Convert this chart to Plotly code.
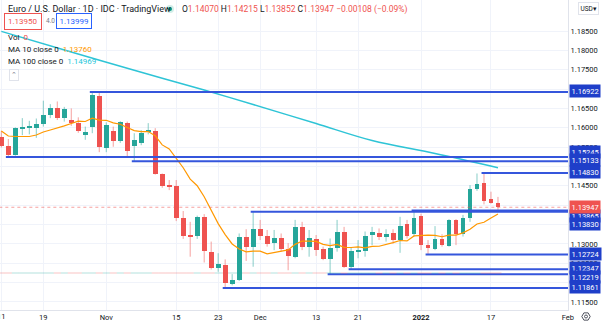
import math
import pandas as pd
import plotly.graph_objects as go

# EUR/USD daily candles, 11 Oct 2021 - 18 Jan 2022
opens = [
    1.1576, 1.1553, 1.1530, 1.1599, 1.1600, 1.1600, 1.1609, 1.1633, 1.1650, 1.1626,
    1.1620, 1.1613, 1.1581, 1.1603, 1.1683, 1.1549, 1.1592, 1.1567, 1.1612, 1.1554,
    1.1560, 1.1588, 1.1592, 1.1481, 1.1452, 1.1450, 1.1368, 1.1321, 1.1321, 1.1370,
    1.1280, 1.1239, 1.1245, 1.1196, 1.1207, 1.1317, 1.1293, 1.1338, 1.1320, 1.1302,
    1.1315, 1.1286, 1.1265, 1.1343, 1.1293, 1.1313, 1.1286, 1.1260, 1.1290, 1.1332,
    1.1240, 1.1280, 1.1282, 1.1325, 1.1329, 1.1319, 1.1329, 1.1310, 1.1351, 1.1325,
    1.1372, 1.1297, 1.1287, 1.1314, 1.1295, 1.1362, 1.1325, 1.1368, 1.1442, 1.1457,
    1.1415, 1.14070,
]
highs = [
    1.1592, 1.1571, 1.1601, 1.1625, 1.1618, 1.1624, 1.1670, 1.1661, 1.1668, 1.1654,
    1.1650, 1.1627, 1.1603, 1.16922, 1.1690, 1.1614, 1.1603, 1.1617, 1.1616, 1.1586,
    1.1594, 1.1612, 1.1599, 1.1482, 1.1465, 1.1465, 1.1385, 1.1357, 1.1373, 1.1377,
    1.1306, 1.1276, 1.1260, 1.1222, 1.1327, 1.1338, 1.13830, 1.1362, 1.1336, 1.1336,
    1.1327, 1.1302, 1.1362, 1.1357, 1.1336, 1.1323, 1.1293, 1.1314, 1.1362, 1.1344,
    1.1292, 1.1310, 1.1332, 1.1344, 1.1340, 1.1338, 1.1338, 1.1370, 1.1362, 1.13865,
    1.1378, 1.1310, 1.1346, 1.1325, 1.1364, 1.1364, 1.1375, 1.1452, 1.1482, 1.14830,
    1.1435, 1.14215,
]
lows = [
    1.1549, 1.15245, 1.1528, 1.1581, 1.1583, 1.1574, 1.1603, 1.1625, 1.1620, 1.1616,
    1.1605, 1.1587, 1.1569, 1.1586, 1.1537, 1.1537, 1.1551, 1.1561, 1.1525, 1.15133,
    1.1555, 1.1583, 1.1479, 1.1445, 1.1439, 1.1359, 1.1313, 1.1267, 1.1313, 1.1252,
    1.1234, 1.1228, 1.11861, 1.1193, 1.1204, 1.1256, 1.1241, 1.1310, 1.1293, 1.1284,
    1.1280, 1.1232, 1.1263, 1.1284, 1.1267, 1.1269, 1.1258, 1.12219, 1.1280, 1.1238,
    1.12347, 1.1263, 1.1267, 1.1297, 1.1310, 1.1306, 1.1301, 1.1277, 1.1314, 1.1319,
    1.1284, 1.12724, 1.1284, 1.1293, 1.1293, 1.1297, 1.1319, 1.1357, 1.1437, 1.1402,
    1.1404, 1.13852,
]
closes = [
    1.1553, 1.1530, 1.1599, 1.1601, 1.1602, 1.1609, 1.1633, 1.1650, 1.1626, 1.1648,
    1.1612, 1.1592, 1.1590, 1.1685, 1.1551, 1.1607, 1.1567, 1.1614, 1.1540, 1.1568,
    1.1587, 1.1594, 1.1480, 1.1450, 1.1446, 1.1368, 1.1321, 1.1320, 1.1370, 1.1282,
    1.1239, 1.1248, 1.1198, 1.1207, 1.1317, 1.1293, 1.1338, 1.1320, 1.1301, 1.1315,
    1.1286, 1.1269, 1.1343, 1.1293, 1.1316, 1.1284, 1.1260, 1.1290, 1.1330, 1.1240,
    1.1282, 1.1284, 1.1321, 1.1330, 1.1319, 1.1326, 1.1310, 1.1346, 1.1320, 1.1368,
    1.1297, 1.1289, 1.1314, 1.1297, 1.1362, 1.1325, 1.1368, 1.1441, 1.1455, 1.1411,
    1.1407, 1.13947,
]
# the IDC feed carries no volume: every session reads 0
volumes = [0] * len(closes)

# MA(10) values for the first nine sessions (their inputs precede the window)
ma10_lead = [1.15917, 1.15788, 1.15775, 1.15775, 1.15775, 1.15813, 1.15891, 1.15943, 1.16007]

# MA(100) sampled at a few sessions
ma100_sessions = [0, 10, 19, 29, 36, 45, 53, 62, 71]
ma100_values = [1.18490, 1.17960, 1.17485, 1.16976, 1.16601, 1.16110, 1.15671, 1.15335, 1.14969]

# Horizontal support / resistance levels and the session each one starts from
levels = [1.16922, 1.15245, 1.15133, 1.14830, 1.13865, 1.13830, 1.12724, 1.12347, 1.12219, 1.11861]
level_starts = ["2021-10-28", "2021-10-12", "2021-11-05", "2022-01-14", "2021-12-31",
                "2021-11-30", "2022-01-04", "2021-12-20", "2021-12-15", "2021-11-24"]

last_price = 1.13947
price_ticks = [1.115, 1.120, 1.125, 1.130, 1.135, 1.140, 1.145, 1.150, 1.155,
               1.160, 1.165, 1.170, 1.175, 1.180, 1.185]
# scale values sitting under a level label are not printed
covered_ticks = [1.120, 1.135, 1.140, 1.150, 1.170]
date_ticks = ["2021-10-11", "2021-10-19", "2021-11-01", "2021-11-15", "2021-11-23",
              "2021-12-01", "2021-12-13", "2021-12-21", "2022-01-03", "2022-01-17", "2022-02-01"]
date_tick_text = ["11", "19", "Nov", "15", "23", "Dec", "13", "21", "<b>2022</b>", "17", "Feb"]

# ---------------------------------------------------------------------------
UP, DOWN = "#26a69a", "#ef5350"
UP_WICK, DOWN_WICK = "rgba(38,166,154,0.55)", "rgba(239,83,80,0.55)"
LEVEL_BLUE = "#3556dc"
LABEL_BLUE = "#1f3fc9"
GRID = "#f0f3fa"
TEXT = "#131722"
FONT = "Roboto"
W, H = 602, 323
ML, MR, MT, MB = 0, 34, 0, 13
PW, PH = W - ML - MR, H - MT - MB

sessions = pd.bdate_range("2021-10-11", "2022-01-18")
calendar = pd.bdate_range("2021-10-11", "2022-02-01")
pos = {d: k for k, d in enumerate(calendar)}
xs = [pos[d] for d in sessions]

ma10 = pd.Series(closes).rolling(10).mean().tolist()
ma10[:len(ma10_lead)] = ma10_lead

fig = go.Figure()

# zero-volume ticks on the overlay volume scale
vol_col = ["rgba(38,166,154,0.35)" if c >= o else "rgba(239,83,80,0.35)"
           for o, c in zip(opens, closes)]
fig.add_trace(go.Scatter(x=xs, y=volumes, yaxis="y2", mode="markers",
                         marker=dict(symbol="line-ew", size=5, line=dict(color=vol_col, width=1)),
                         hoverinfo="skip", showlegend=False))

# wicks
for up, color in ((True, UP_WICK), (False, DOWN_WICK)):
    wx, wy = [], []
    for x, o, h, l, c in zip(xs, opens, highs, lows, closes):
        if (c >= o) == up:
            wx += [x, x, None]
            wy += [l, h, None]
    fig.add_trace(go.Scatter(x=wx, y=wy, mode="lines", line=dict(color=color, width=1),
                             hoverinfo="skip", showlegend=False))

# bodies
body_base = [min(o, c) for o, c in zip(opens, closes)]
body_len = [max(abs(c - o), 0.00025) for o, c in zip(opens, closes)]
body_col = [UP if c >= o else DOWN for o, c in zip(opens, closes)]
fig.add_trace(go.Bar(x=xs, y=body_len, base=body_base, width=0.7,
                     marker=dict(color=body_col, line=dict(width=0)),
                     hoverinfo="skip", showlegend=False))

# moving averages
fig.add_trace(go.Scatter(x=xs, y=ma10, mode="lines", line=dict(color="#ff9800", width=1.2),
                         hoverinfo="skip", showlegend=False))
fig.add_trace(go.Scatter(x=[xs[k] for k in ma100_sessions], y=ma100_values, mode="lines",
                         line=dict(color="#2ec4d6", width=1.5, shape="spline"),
                         hoverinfo="skip", showlegend=False))

x_end = len(calendar) + 2
# last-price line
fig.add_trace(go.Scatter(x=[-2, x_end], y=[last_price, last_price], mode="lines",
                         line=dict(color="rgba(239,83,80,0.55)", width=1, dash="dot"),
                         hoverinfo="skip", showlegend=False))

# level lines
for p, s in zip(levels, level_starts):
    x0 = pos[pd.Timestamp(s)] - 0.35
    fig.add_trace(go.Scatter(x=[x0, x_end], y=[p, p], mode="lines",
                             line=dict(color=LEVEL_BLUE, width=2),
                             hoverinfo="skip", showlegend=False))

y_lo, y_hi = 1.11293, 1.19301
x_lo, x_hi = -0.19, 81.01
vol_zero_frac = 1 - 273.0 / PH   # the volume overlay's zero line sits at this height


def px_x(px):
    return px / PW


def px_y(py):
    return 1 - py / PH


def x_to_px(x):
    return (x - x_lo) / (x_hi - x_lo) * PW


ann = []
# price-axis labels for the levels (nudged in pixels where they would collide)
nudge = {1.16922: 1, 1.15245: 5.5, 1.15133: 1.5, 1.14830: 1, 1.13865: -5.5,
         1.13830: -12, 1.12724: 0.5, 1.12347: 1, 1.12219: -3, 1.11861: 1}
for p in levels:
    ann.append(dict(x=1 + 1.0 / PW, xref="paper", y=p, yref="y", xanchor="left", yanchor="middle",
                    text=f"{p:.5f}", showarrow=False, bgcolor=LABEL_BLUE, borderpad=1.5,
                    font=dict(family=FONT, size=7.5, color="white"), yshift=nudge.get(p, 0)))
ann.append(dict(x=1 + 1.0 / PW, xref="paper", y=last_price, yref="y", xanchor="left",
                yanchor="middle", text=f"{last_price:.5f}", showarrow=False, bgcolor=DOWN,
                borderpad=1.5, font=dict(family=FONT, size=7.5, color="white")))

# the first date label sits on the left edge and is cut by it
first_tick = pos[pd.Timestamp(date_ticks[0])]
ann.append(dict(x=px_x(x_to_px(first_tick)), y=px_y(316.5), xref="paper", yref="paper",
                xanchor="center", yanchor="middle", text=date_tick_text[0], showarrow=False,
                font=dict(family=FONT, size=7.5, color=TEXT)))


# legend / header texts
def hdr(px, py, text, size=8.5, color=TEXT, **kw):
    d = dict(x=px_x(px), y=px_y(py), xref="paper", yref="paper", xanchor="left", yanchor="middle",
             text=text, showarrow=False, font=dict(family=FONT, size=size, color=color))
    d.update(kw)
    return d


red = lambda t: f"<span style='color:{DOWN}'>{t}</span>"
ann.append(hdr(6, 9, "Euro / U.S. Dollar · 1D · IDC · TradingView", size=9))
ann.append(hdr(180, 9, f"O{red('1.14070')} H{red('1.14215')} L{red('1.13852')} "
                       f"C{red('1.13947')} {red('−0.00108 (−0.09%)')}", size=8.5))
ann.append(hdr(4, 21.5, "1.13950", size=8, color=DOWN, bordercolor=DOWN, borderwidth=1,
               borderpad=3, bgcolor="white"))
ann.append(hdr(43.5, 21.5, "4.0", size=6.5, color="#787b86"))
ann.append(hdr(56, 21.5, "1.13999", size=8, color="#2962ff", bordercolor="#2962ff",
               borderwidth=1, borderpad=2.5, bgcolor="white"))
ann.append(hdr(6, 37, f"Vol  {red('0')}", size=8))
ann.append(hdr(6, 49.5, "MA 10 close 0  <span style='color:#ff9800'>1.13760</span>", size=8))
ann.append(hdr(6, 62, "MA 100 close 0  <span style='color:#26c6da'>1.14969</span>", size=8))
ann.append(hdr(9, 75, "⌃", size=7, color="#787b86", bordercolor="#e0e3eb", borderwidth=1,
               borderpad=1, bgcolor="white"))
ann.append(dict(x=1 + 10 / PW, y=px_y(8.5), xref="paper", yref="paper", xanchor="left",
                yanchor="middle", text="USD▾", showarrow=False, bordercolor="#e0e3eb",
                borderwidth=1, borderpad=1.5, bgcolor="white",
                font=dict(family=FONT, size=6.5, color=TEXT)))

# settings button below the price scale: hexagon outline with a hub
gx, gy, gr = 586.0, 316.5, 4.2
hexagon = " ".join(
    ("M" if k == 0 else "L") +
    f"{px_x(gx + gr * math.cos(math.radians(60 * k)))},{px_y(gy + gr * math.sin(math.radians(60 * k)))}"
    for k in range(6)) + " Z"

shapes = [
    dict(type="circle", xref="paper", yref="paper", x0=px_x(166), x1=px_x(174),
         y0=px_y(13), y1=px_y(5), fillcolor="rgba(8,153,129,0.18)", line=dict(width=0)),
    dict(type="circle", xref="paper", yref="paper", x0=px_x(168), x1=px_x(172),
         y0=px_y(11), y1=px_y(7), fillcolor="#089981", line=dict(width=0)),
    dict(type="path", xref="paper", yref="paper", path=hexagon,
         line=dict(color="#50535e", width=1)),
    dict(type="circle", xref="paper", yref="paper", x0=px_x(gx - 1.5), x1=px_x(gx + 1.5),
         y0=px_y(gy + 1.5), y1=px_y(gy - 1.5), line=dict(color="#50535e", width=1)),
]

fig.update_layout(
    width=W, height=H, margin=dict(l=ML, r=MR, t=MT, b=MB),
    paper_bgcolor="white", plot_bgcolor="white", bargap=0, showlegend=False,
    annotations=ann, shapes=shapes,
    xaxis=dict(range=[x_lo, x_hi], tickmode="array",
               tickvals=[pos[pd.Timestamp(d)] for d in date_ticks],
               ticktext=[""] + date_tick_text[1:],
               showgrid=True, gridcolor=GRID, gridwidth=1, zeroline=False, ticks="",
               showline=True, linecolor="#e0e3eb", linewidth=1,
               tickfont=dict(family=FONT, size=7.5, color=TEXT), fixedrange=True),
    yaxis=dict(range=[y_lo, y_hi], side="right", tickmode="array", tickvals=price_ticks,
               ticktext=["" if any(abs(v - c) < 1e-9 for c in covered_ticks) else f"{v:.5f}"
                         for v in price_ticks],
               showgrid=True, gridcolor=GRID,
               gridwidth=1, zeroline=False, ticks="", showline=True, linecolor="#e0e3eb",
               linewidth=1, tickfont=dict(family=FONT, size=7.5, color=TEXT), fixedrange=True),
    yaxis2=dict(overlaying="y", range=[-vol_zero_frac, 1 - vol_zero_frac], visible=False,
                fixedrange=True),
)

fig.write_html("out.html", config={"displayModeBar": False})
